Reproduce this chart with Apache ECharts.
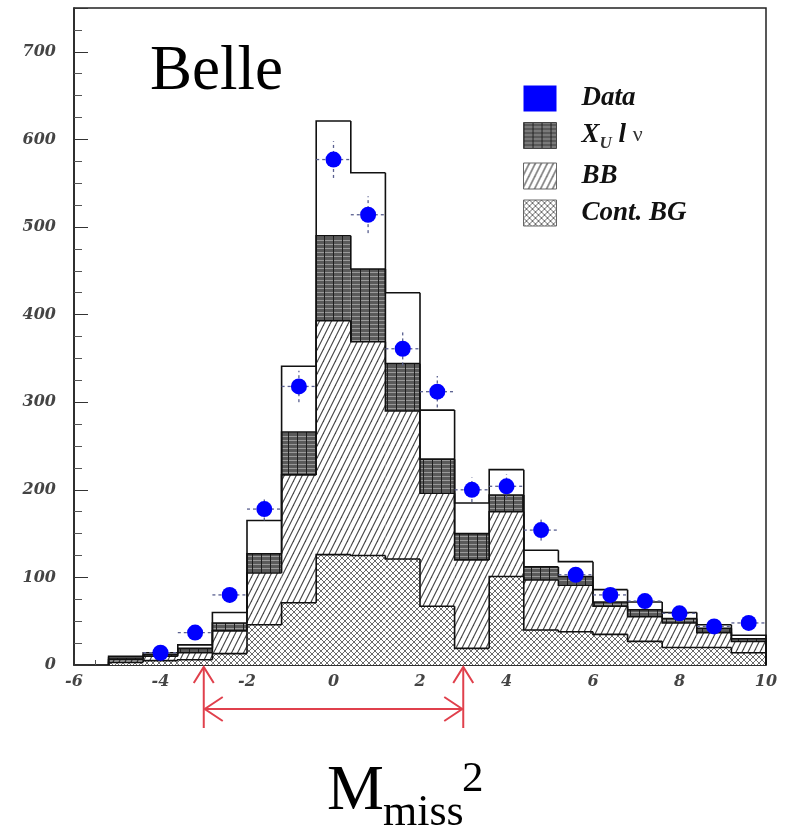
<!DOCTYPE html>
<html><head><meta charset="utf-8">
<script src="https://cdn.jsdelivr.net/npm/echarts@6/dist/echarts.min.js"></script>
<style>html,body{margin:0;padding:0;background:#fff}#c{width:789px;height:834px}</style>
</head><body><div id="c"></div>
<script>
// ---- data ----
const binCenters = [-4.8,-4.0,-3.2,-2.4,-1.6,-0.8,0,0.8,1.6,2.4,3.2,4.0,4.8,5.6,6.4,7.2,8.0,8.8,9.6];
const binWidth = 0.8;
const contBG  = [3,5,6,13,46,71,126,125,121,67,19,101,40,38,35,27,20,20,14];
const bbBG    = [3,5,8,26,59,146,267,244,169,129,101,74,57,53,32,28,28,17,13];
const xulnu   = [2,2,5,9,22,49,97,83,54,39,30,19,15,10,5,8,5,5,3];
const mcTotal = [10,14,23,60,165,341,621,562,425,291,185,223,131,118,86,72,60,46,34];
const dataCounts = [null,14,37,80,178,318,577,514,361,312,200,204,154,103,80,73,59,44,48];
const dataErrors = [null,4,6,9,13,18,21,21,19,18,14,14,12,10,9,9,8,7,7];
const cutRange = [-3, 3];
const legendNames = ['Data', 'X_U l \u03bd', 'BB', 'Cont. BG'];

// ---- patterns ----
function makePattern(w, h, bg, draw) {
  const c = document.createElement('canvas'); c.width = w; c.height = h;
  const g = c.getContext('2d'); g.fillStyle = bg; g.fillRect(0, 0, w, h); draw(g, w, h);
  return { image: c, repeat: 'repeat' };
}
const bbPattern = makePattern(6, 12, '#fff', (g, w, h) => {
  g.strokeStyle = '#444'; g.lineWidth = 1.1;
  for (const o of [-w, 0, w]) { g.beginPath(); g.moveTo(o - 1, h + 2); g.lineTo(o + w + 1, -2); g.stroke(); }
});
const contPattern = makePattern(6, 6, '#fff', (g, w, h) => {
  g.strokeStyle = '#5a5a5a'; g.lineWidth = 0.9;
  for (const o of [-w, 0, w]) {
    g.beginPath(); g.moveTo(o, 0); g.lineTo(o + w, h); g.stroke();
    g.beginPath(); g.moveTo(o, h); g.lineTo(o + w, 0); g.stroke();
  }
});
const xuPattern = makePattern(9, 4, '#5a5a5a', (g, w, h) => {
  g.fillStyle = '#9a9a9a'; g.fillRect(0, 0, w, 1);
  g.fillStyle = '#1e1e1e'; g.fillRect(0, 0, 1, h);
});

// ---- stacking ----
const n = binCenters.length;
const contTop = contBG.slice();
const bbTop = contTop.map((v, i) => v + bbBG[i]);
const xuTop = bbTop.map((v, i) => v + xulnu[i]);

function layerData(lo, hi) { return binCenters.map((c, i) => [c, lo ? lo[i] : 0, hi[i]]); }
function outlineData(top) { return binCenters.map((c, i) => [c, top[i], i > 0 ? top[i - 1] : 0, i < n - 1 ? top[i + 1] : 0]); }

function layerRender(pattern) {
  return function (params, api) {
    const c = api.value(0), lo = api.value(1), hi = api.value(2);
    const p0 = api.coord([c - binWidth / 2, hi]), p1 = api.coord([c + binWidth / 2, lo]);
    return { type: 'rect', shape: { x: p0[0], y: p0[1], width: p1[0] - p0[0], height: p1[1] - p0[1] }, style: { fill: pattern } };
  };
}
function outlineRender(params, api) {
  const c = api.value(0), top = api.value(1), prev = api.value(2), next = api.value(3);
  const xl = c - binWidth / 2, xr = c + binWidth / 2;
  const pts = [api.coord([xl, prev]), api.coord([xl, top]), api.coord([xr, top])];
  if (params.dataIndex === n - 1) pts.push(api.coord([xr, next]));
  return { type: 'polyline', shape: { points: pts }, style: { stroke: '#111', lineWidth: 1.6, fill: null } };
}
function errRender(params, api) {
  const c = api.value(0), y = api.value(1), e = api.value(2);
  const a = api.coord([c, y - e]), b = api.coord([c, y + e]);
  const l = api.coord([c - binWidth / 2, y]), r = api.coord([c + binWidth / 2, y]);
  const st = { stroke: '#5a6090', lineWidth: 1.3, lineDash: [3, 3] };
  return { type: 'group', children: [
    { type: 'line', shape: { x1: a[0], y1: a[1], x2: b[0], y2: b[1] }, style: st },
    { type: 'line', shape: { x1: l[0], y1: l[1], x2: r[0], y2: r[1] }, style: st }
  ] };
}
function arrowRender(params, api) {
  const lo = api.value(0), hi = api.value(1);
  const a = api.coord([lo, 0]), b = api.coord([hi, 0]);
  const y0 = a[1], col = '#e0404c', st = { stroke: col, lineWidth: 2, fill: null };
  const ch = [];
  for (const x of [a[0], b[0]]) {
    ch.push({ type: 'line', shape: { x1: x, y1: y0 + 2, x2: x, y2: y0 + 63 }, style: st });
    ch.push({ type: 'polyline', shape: { points: [[x - 10, y0 + 18], [x, y0 + 2], [x + 10, y0 + 18]] }, style: st });
  }
  const yh = y0 + 44;
  ch.push({ type: 'line', shape: { x1: a[0] + 1, y1: yh, x2: b[0] - 1, y2: yh }, style: st });
  ch.push({ type: 'polyline', shape: { points: [[a[0] + 19, yh - 12], [a[0] + 1, yh], [a[0] + 19, yh + 12]] }, style: st });
  ch.push({ type: 'polyline', shape: { points: [[b[0] - 19, yh - 12], [b[0] - 1, yh], [b[0] - 19, yh + 12]] }, style: st });
  return { type: 'group', children: ch };
}

const labelFont = { fontFamily: 'DejaVu Serif', fontStyle: 'italic', fontWeight: 'bold', fontSize: 16, color: '#444' };
const serif = 'Liberation Serif';

const chart = echarts.init(document.getElementById('c'), null, { renderer: 'canvas' });
chart.setOption({
  animation: false,
  backgroundColor: '#fff',
  grid: { left: 74, right: 23, top: 8, bottom: 169, show: true, borderColor: '#222', borderWidth: 1.5, backgroundColor: 'transparent' },
  xAxis: {
    type: 'value', min: -6, max: 10, interval: 2,
    axisLine: { onZero: false, lineStyle: { color: '#222', width: 1.5 } },
    axisTick: { inside: true, length: 10, lineStyle: { color: '#333' } },
    minorTick: { show: true, splitNumber: 4, length: 5, lineStyle: { color: '#555' } },
    splitLine: { show: false },
    axisLabel: Object.assign({ margin: 9 }, labelFont)
  },
  yAxis: {
    type: 'value', min: 0, max: 750, interval: 100,
    axisLine: { show: true, onZero: false, lineStyle: { color: '#222', width: 1.5 } },
    axisTick: { show: true, inside: true, length: 14, lineStyle: { color: '#333' } },
    minorTick: { show: true, splitNumber: 4, length: 8, lineStyle: { color: '#555' } },
    splitLine: { show: false },
    axisLabel: Object.assign({ margin: 18, showMaxLabel: false }, labelFont)
  },
  legend: {
    orient: 'vertical', left: 518, top: 80, itemWidth: 33, itemHeight: 26, itemGap: 10,
    selectedMode: false,
    data: [
      { name: legendNames[0], icon: 'rect', itemStyle: { color: '#0000ff', opacity: 1 } },
      { name: legendNames[1], icon: 'rect', itemStyle: { color: xuPattern, borderColor: '#444', borderWidth: 1 } },
      { name: legendNames[2], icon: 'rect', itemStyle: { color: bbPattern, borderColor: '#666', borderWidth: 1 } },
      { name: legendNames[3], icon: 'rect', itemStyle: { color: contPattern, borderColor: '#666', borderWidth: 1 } }
    ],
    formatter: function (name) {
      if (name === legendNames[1]) return '{g| }{t|X}{s|U}{t| l }{n|\u03bd}';
      return '{g| }{t|' + name + '}';
    },
    textStyle: {
      rich: {
        g: { width: 20, fontSize: 10, lineHeight: 34 },
        t: { fontFamily: serif, fontStyle: 'italic', fontWeight: 'bold', fontSize: 27, color: '#111', lineHeight: 34, verticalAlign: 'middle' },
        s: { fontFamily: serif, fontStyle: 'italic', fontWeight: 'bold', fontSize: 17, color: '#333', lineHeight: 34, verticalAlign: 'bottom' },
        n: { fontFamily: serif, fontSize: 22, color: '#333', lineHeight: 34, verticalAlign: 'middle' }
      }
    }
  },
  graphic: [
    { type: 'text', x: 150, y: 72, style: { text: 'Belle', font: '63px "Liberation Serif"', fill: '#000', textAlign: 'left', textVerticalAlign: 'middle' } },
    { type: 'text', x: 327, y: 792, style: { text: 'M', font: '64px "Liberation Serif"', fill: '#000', textAlign: 'left', textVerticalAlign: 'middle' } },
    { type: 'text', x: 383, y: 813, style: { text: 'miss', font: '44px "Liberation Serif"', fill: '#000', textAlign: 'left', textVerticalAlign: 'middle' } },
    { type: 'text', x: 462, y: 780, style: { text: '2', font: '43px "Liberation Serif"', fill: '#000', textAlign: 'left', textVerticalAlign: 'middle' } }
  ],
  series: [
    { name: legendNames[3], type: 'custom', renderItem: layerRender(contPattern), data: layerData(null, contTop), itemStyle: { color: contPattern }, z: 2 },
    { name: legendNames[2], type: 'custom', renderItem: layerRender(bbPattern), data: layerData(contTop, bbTop), itemStyle: { color: bbPattern }, z: 2 },
    { name: legendNames[1], type: 'custom', renderItem: layerRender(xuPattern), data: layerData(bbTop, xuTop), itemStyle: { color: xuPattern }, z: 2 },
    { name: 'outlineCont', type: 'custom', renderItem: outlineRender, data: outlineData(contTop), z: 3 },
    { name: 'outlineBB', type: 'custom', renderItem: outlineRender, data: outlineData(bbTop), z: 3 },
    { name: 'outlineXu', type: 'custom', renderItem: outlineRender, data: outlineData(xuTop), z: 3 },
    { name: 'outlineTotal', type: 'custom', renderItem: outlineRender, data: outlineData(mcTotal), z: 3 },
    { name: 'dataErr', type: 'custom', renderItem: errRender, z: 4,
      data: binCenters.map((c, i) => [c, dataCounts[i], dataErrors[i]]).filter(d => d[1] != null) },
    { name: legendNames[0], type: 'scatter', symbol: 'circle', symbolSize: 16, itemStyle: { color: '#0000ff', opacity: 1 }, z: 5,
      data: binCenters.map((c, i) => [c, dataCounts[i]]).filter(d => d[1] != null) },
    { name: 'cut', type: 'custom', clip: false, renderItem: arrowRender, data: [cutRange], z: 6 }
  ]
});
</script></body></html>
